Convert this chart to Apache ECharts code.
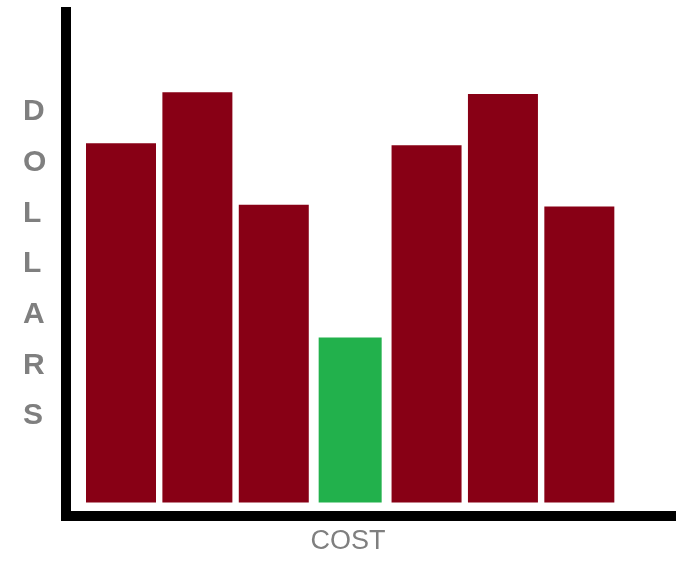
<!DOCTYPE html>
<html>
<head>
<meta charset="utf-8">
<script src="https://cdn.jsdelivr.net/npm/echarts@6/dist/echarts.min.js"></script>
<style>
html,body{margin:0;padding:0;background:#fff;}
#chart{width:679px;height:563px;}
</style>
</head>
<body>
<div id="chart"></div>
<script>
// Data
var categories = [1, 2, 3, 4, 5, 6, 7];
var values = [80.6, 92.0, 66.8, 37.0, 80.1, 91.6, 66.4];
var highlightIndex = 3; // the green bar
var xTitle = 'COST';
var yTitle = 'DOLLARS';

var redColor = '#880015';
var greenColor = '#22B14C';

var redData = [];
var greenData = [];
categories.forEach(function (c, i) {
  if (i === highlightIndex) greenData.push([c, values[i]]);
  else redData.push([c, values[i]]);
});

var chart = echarts.init(document.getElementById('chart'), null, {renderer: 'canvas'});
var axisLineStyle = {color: '#000', width: 10, cap: 'square'};
chart.setOption({
  animation: false,
  backgroundColor: '#ffffff',
  grid: {left: 66, right: 8, top: 12, bottom: 47, containLabel: false},
  xAxis: [{
    type: 'value',
    min: 0.28,
    max: 8.2,
    name: xTitle,
    nameLocation: 'middle',
    nameGap: 12,
    nameTextStyle: {
      color: '#7f7f7f',
      fontFamily: 'Liberation Sans',
      fontSize: 27,
      padding: [0, 41, 0, 0]
    },
    axisLine: {show: true, onZero: false, lineStyle: axisLineStyle},
    axisTick: {show: false},
    axisLabel: {show: false},
    splitLine: {show: false}
  }, {
    type: 'value',
    min: 0.28,
    max: 8.2,
    show: false,
    gridIndex: 0
  }],
  yAxis: {
    type: 'value',
    min: -3,
    max: 110,
    name: yTitle.split('').join('\n'),
    nameLocation: 'middle',
    nameRotate: 0,
    nameGap: 43,
    nameTextStyle: {
      color: '#7f7f7f',
      fontFamily: 'Liberation Sans',
      fontWeight: 'bold',
      fontSize: 30,
      lineHeight: 50.7,
      align: 'left'
    },
    axisLine: {show: true, onZero: false, lineStyle: axisLineStyle},
    axisTick: {show: false},
    axisLabel: {show: false},
    splitLine: {show: false}
  },
  series: [{
    type: 'bar',
    xAxisIndex: 0,
    data: redData,
    barWidth: 70,
    itemStyle: {color: redColor}
  }, {
    type: 'bar',
    xAxisIndex: 1,
    data: greenData,
    barWidth: 63,
    itemStyle: {color: greenColor}
  }]
});
</script>
</body>
</html>
